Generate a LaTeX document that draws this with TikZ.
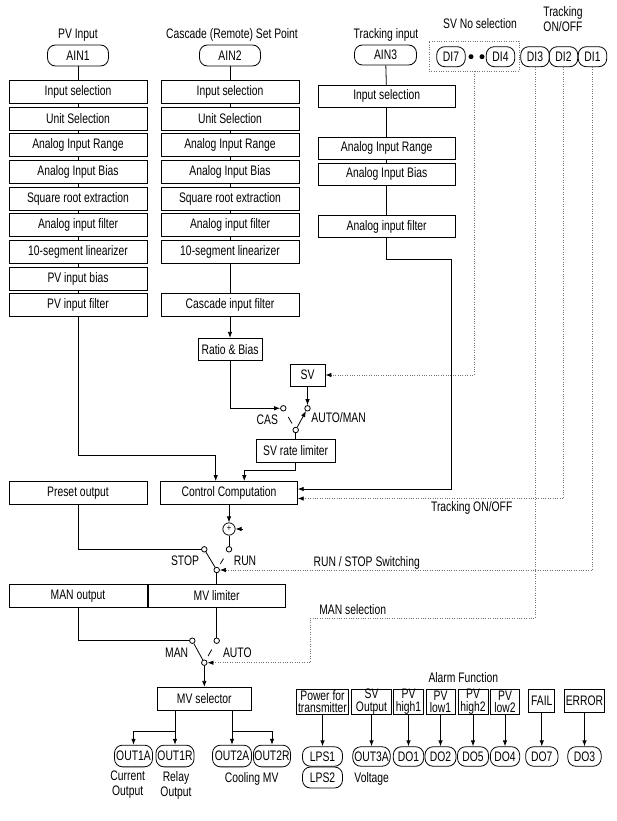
\documentclass[tikz,border=0pt]{standalone}
\usepackage{fontspec}
\setmainfont{Liberation Sans}[FakeStretch=0.75]
\usetikzlibrary{positioning,calc,arrows.meta}

\begin{document}
\begin{tikzpicture}[x=1pt, y=-1pt, line width=0.8pt, >={Latex[length=6pt,width=4.5pt]},
  font=\fontsize{13.8}{15}\selectfont,
  blk/.style={draw, minimum width=138pt, minimum height=23pt, inner sep=1pt},
  pill/.style={draw, rounded corners=8pt, minimum width=#1, minimum height=20pt, inner sep=0pt},
  pill/.default=30pt,
  abox/.style={draw, minimum width=#1, minimum height=25.3pt, inner sep=0pt, align=center, font=\fontsize{13.8}{12.4}\selectfont},
  contact/.style={circle, draw, fill=white, inner sep=0pt, minimum size=5.5pt},
  dotb/.style={circle, fill, inner sep=0pt, minimum size=5pt},
  sig/.style={draw=black!55, dash pattern=on 0.8pt off 1.6pt, >={Latex[length=6pt,width=4.5pt,black]}}]
\useasboundingbox (0,0) rectangle (617,821);

% titles
\node (lpv) at (78,35) {PV Input};
\node (lcas) at (232,35) {Cascade (Remote) Set Point};
\node (ltr) at (386,35) {Tracking input};
\node (lsvn) at (480,24) {SV No selection};
\node[align=center, font=\fontsize{13.8}{14.3}\selectfont] (ltrk) at (563,19) {Tracking\\ON/OFF};

% inputs
\node[pill=61pt, minimum height=21pt] (ain1) at (78,55.5) {AIN1};
\node[pill=61pt, minimum height=21pt] (ain2) at (230,55.5) {AIN2};
\node[pill=62pt] (ain3) at (385.5,55) {AIN3};
\node[draw, sig, minimum width=90pt, minimum height=30pt] (dsel) at (474,56) {};
\node[pill=28.5pt] (di7) at (451,56.7) {DI7};
\node[dotb] (dt1) at (471,56.7) {};
\node[dotb] (dt2) at (482,56.7) {};
\node[pill=28.5pt] (di4) at (500.5,56.7) {DI4};
\node[pill=28.5pt] (di3) at (535,56.7) {DI3};
\node[pill=28.5pt] (di2) at (563.5,56.7) {DI2};
\node[pill=28.5pt] (di1) at (592.5,56.7) {DI1};

% PV column
\node[blk] (is1) at (78,92.2) {Input selection};
\node[blk] (us1) at (78,118.7) {Unit Selection};
\node[blk] (air1) at (78,145.3) {Analog Input Range};
\node[blk] (aib1) at (78,172) {Analog Input Bias};
\node[blk] (sqr1) at (78,198.7) {Square root extraction};
\node[blk] (aif1) at (78,225.3) {Analog input filter};
\node[blk] (lin1) at (78,252) {10-segment linearizer};
\node[blk] (pvb) at (78,278.7) {PV input bias};
\node[blk] (pvf) at (78,305.3) {PV input filter};

% cascade column
\node[blk] (is2) at (230,92.2) {Input selection};
\node[blk] (us2) at (230,118.7) {Unit Selection};
\node[blk] (air2) at (230,145.3) {Analog Input Range};
\node[blk] (aib2) at (230,172) {Analog Input Bias};
\node[blk] (sqr2) at (230,198.7) {Square root extraction};
\node[blk] (aif2) at (230,225.3) {Analog input filter};
\node[blk] (lin2) at (230,252) {10-segment linearizer};
\node[blk] (cif) at (230,305.3) {Cascade input filter};

% tracking column
\node[blk, minimum width=137pt, minimum height=22pt] (is3) at (386.7,96) {Input selection};
\node[blk, minimum width=137pt, minimum height=22pt] (air3) at (386.7,148) {Analog Input Range};
\node[blk, minimum width=137pt, minimum height=22pt] (aib3) at (386.7,174) {Analog Input Bias};
\node[blk, minimum width=137pt, minimum height=22pt] (aif3) at (386.7,226.5) {Analog input filter};

% set point
\node[blk, minimum width=64pt, minimum height=22.4pt] (rb) at (230,349.5) {Ratio \& Bias};
\node[blk, minimum width=35pt, minimum height=22pt] (sv) at (307.5,375) {SV};
\node[contact] (c1) at (283.3,408.3) {};
\node[contact] (c2) at (307.5,408.3) {};
\node[contact] (p1) at (295.7,430) {};
\node (lcas2) at (267.3,420) {CAS};
\node[anchor=west, inner sep=0pt] (lam) at (311,417.3) {AUTO/MAN};
\node[blk, minimum width=79pt, minimum height=23.4pt] (srl) at (295.7,451) {SV rate limiter};

% control
\node[blk, minimum width=136.6pt] (cc) at (229,493) {Control Computation};
\node[blk] (preset) at (78,493.3) {Preset output};
\node[circle, draw, inner sep=0pt, minimum size=12.3pt, font=\fontsize{10}{10}\selectfont] (pl) at (229,529) {+};
\node[contact] (c3) at (204.3,549.3) {};
\node[contact] (c4) at (229,549.3) {};
\node[contact] (p2) at (216.7,570) {};
\node (lstop) at (185,561) {STOP};
\node (lrun) at (245,561) {RUN};
\node[blk] (manout) at (78,595.8) {MAN output};
\node[blk, minimum width=136.7pt] (mvl) at (216.7,595.8) {MV limiter};
\node[contact] (c5) at (192.3,640.7) {};
\node[contact] (c6) at (216.7,640.7) {};
\node[contact] (p3) at (204.3,662.7) {};
\node (lman) at (176.7,652.7) {MAN};
\node (lauto) at (237.3,652.7) {AUTO};
\node[blk, minimum width=94pt, minimum height=23.4pt] (mvs) at (204.3,699) {MV selector};

% signal labels
\node (ltoo) at (471.7,508) {Tracking ON/OFF};
\node (lrss) at (366.7,563.3) {RUN / STOP Switching};
\node (lmans) at (352.7,609.3) {MAN selection};
\node (lalm) at (463.3,677.3) {Alarm Function};

% outputs
\node[pill=38pt, minimum height=21.7pt] (o1a) at (133.5,756) {OUT1A};
\node[pill=38pt, minimum height=21.7pt] (o1r) at (175,756) {OUT1R};
\node[pill=39pt, minimum height=21.7pt] (o2a) at (232,756) {OUT2A};
\node[pill=37pt, minimum height=21.7pt] (o2r) at (272,756) {OUT2R};
\node[align=center] (lcur) at (127.7,785) {Current\\Output};
\node[align=center] (lrel) at (176,785.5) {Relay\\Output};
\node (lcool) at (251.7,779.3) {Cooling MV};

\node[abox=52.3pt] (pwr) at (322.5,701.7) {Power for\\transmitter};
\node[abox=40.7pt] (svo) at (371.5,701.7) {SV\\Output};
\node[abox=30pt] (ph1) at (408.5,701.7) {PV\\high1};
\node[abox=29pt] (pl1) at (440.5,701.7) {PV\\low1};
\node[abox=30pt] (ph2) at (473,701.7) {PV\\high2};
\node[abox=28.6pt] (pl2) at (505,701.7) {PV\\low2};
\node[abox=26pt, minimum height=23pt] (fail) at (541.8,700.8) {FAIL};
\node[abox=40.3pt, minimum height=23pt] (err) at (584.5,700.8) {ERROR};

\node[pill=40pt, minimum height=19.5pt] (lps1) at (322.5,756.5) {LPS1};
\node[pill=40pt, minimum height=21pt] (lps2) at (322.5,777.5) {LPS2};
\node[pill=37.4pt, minimum height=19.5pt] (o3a) at (371.5,756.5) {OUT3A};
\node[pill=30.4pt, minimum height=19.5pt] (do1) at (408.5,756.5) {DO1};
\node[pill=31pt, minimum height=19.5pt] (do2) at (440.5,756.5) {DO2};
\node[pill=31pt, minimum height=19.5pt] (do5) at (473,756.5) {DO5};
\node[pill=29.3pt, minimum height=19.5pt] (do4) at (505,756.5) {DO4};
\node[pill=32.3pt, minimum height=19.5pt] (do7) at (541.8,756.5) {DO7};
\node[pill=33.4pt, minimum height=19.5pt] (do3) at (584.5,756.5) {DO3};
\node (lvol) at (371.7,779) {Voltage};

% PV chain
\draw (ain1) -- (is1);
\draw (is1) -- (us1);
\draw (us1) -- (air1);
\draw (air1) -- (aib1);
\draw (aib1) -- (sqr1);
\draw (sqr1) -- (aif1);
\draw (aif1) -- (lin1);
\draw (lin1) -- (pvb);
\draw (pvb) -- (pvf);
\draw[->] (pvf.south) -- (pvf.south |- 0,455) -| ([xshift=-13.3pt]cc.north);

% cascade chain
\draw (ain2) -- (is2);
\draw (is2) -- (us2);
\draw (us2) -- (air2);
\draw (air2) -- (aib2);
\draw (aib2) -- (sqr2);
\draw (sqr2) -- (aif2);
\draw (aif2) -- (lin2);
\draw (lin2) -- (cif);
\draw[->] (cif) -- (rb);
\draw[->] (rb.south) |- (c1.west);

% tracking chain
\draw (ain3) -- (is3);
\draw (is3) -- (air3);
\draw (air3) -- (aib3);
\draw (aib3) -- (aif3);
\draw[->] (aif3.south) -- (aif3.south |- 0,259) -| (451,489) -- (cc.east |- 0,489);

% SV switch
\draw[->] (sv) -- (c2);
\draw[->] (p1) -- (c2);
\draw ($(p1)!0.3!(c1)$) -- ($(p1)!0.6!(c1)$);
\draw (p1) -- (srl);
\draw[->] (srl.south) -- (srl.south |- 0,470.7) -| ([xshift=15.3pt]cc.north);

% RUN/STOP switch
\draw[->] (cc) -- (pl);
\draw[<-] (pl.east) -- ++(7,0);
\draw (pl) -- (c4);
\draw (preset.south) |- (c3.west);
\draw (c3) -- (p2);
\draw ($(p2)!0.3!(c4)$) -- ($(p2)!0.55!(c4)$);
\draw (p2) -- (mvl);

% MAN/AUTO switch
\draw (mvl) -- (c6);
\draw (manout.south) |- (c5.west);
\draw (c5) -- (p3);
\draw ($(p3)!0.3!(c6)$) -- ($(p3)!0.6!(c6)$);
\draw[->] (p3) -- (mvs);

% MV outputs
\coordinate (jo1) at (o1r |- 0,731);
\coordinate (jo2) at (o2a |- 0,731);
\draw (mvs.south -| jo1) -- (jo1);
\draw[->] (jo1) -- (o1r);
\draw[->] (jo1) -| (o1a);
\draw (mvs.south -| jo2) -- (jo2);
\draw[->] (jo2) -- (o2a);
\draw[->] (jo2) -| (o2r);

% alarm outputs
\draw[->] (pwr) -- (lps1);
\draw[->] (svo) -- (o3a);
\draw[->] (ph1) -- (do1);
\draw[->] (pl1) -- (do2);
\draw[->] (ph2) -- (do5);
\draw[->] (pl2) -- (do4);
\draw[->] (fail) -- (do7);
\draw[->] (err) -- (do3);

% digital inputs
\draw[sig,->] (dsel.south) |- (sv.east);
\draw[sig,->] (di2.south) |- (cc.east |- 0,498.5);
\draw[sig,->] (di1.south) |- (p2.east);
\draw[sig,->] (di3.south) -- (di3.south |- 0,618.3) -| (310,662.7) -- (p3.east);
\end{tikzpicture}
\end{document}
